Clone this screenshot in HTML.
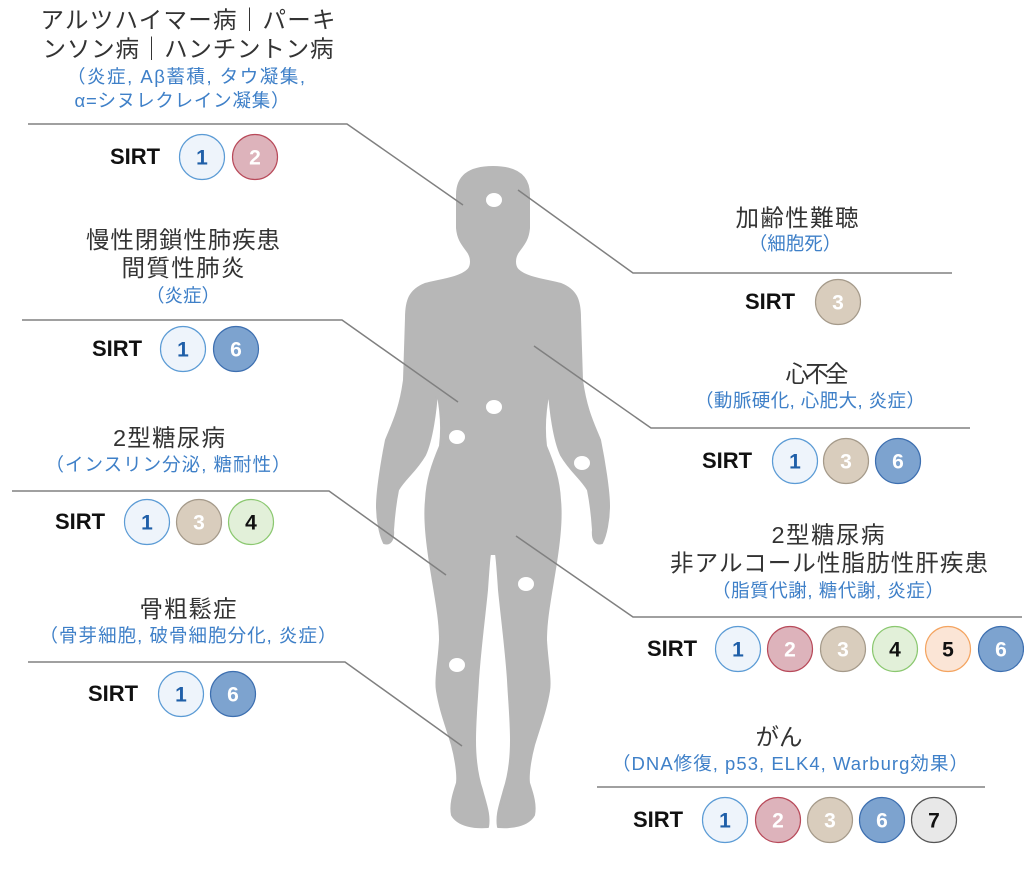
<!DOCTYPE html>
<html><head><meta charset="utf-8"><style>
html,body{margin:0;padding:0;background:#fff}
svg{display:block}
.h{font-family:"Liberation Sans","Noto Sans CJK JP",sans-serif;font-size:23.5px;fill:#333;text-anchor:middle}
.b{font-family:"Liberation Sans","Noto Sans CJK JP",sans-serif;font-size:18.5px;fill:#3f80c8;text-anchor:middle}
.s{font-family:"Liberation Sans",sans-serif;font-size:22px;font-weight:bold;fill:#111;text-anchor:middle}
.n{font-family:"Liberation Sans",sans-serif;font-size:21px;font-weight:bold;text-anchor:middle}
.l{stroke:#808080;stroke-width:1.5;fill:none}
</style></head><body>
<svg width="1024" height="893" viewBox="0 0 1024 893" xmlns="http://www.w3.org/2000/svg">
<defs>
<g id="c1"><circle r="22.5" fill="#eef4fb" stroke="#5b9bd5" stroke-width="1.2"/><text class="n" y="7.5" fill="#1f5fa8">1</text></g>
<g id="c2"><circle r="22.5" fill="#ddb3bb" stroke="#b84a5a" stroke-width="1.2"/><text class="n" y="7.5" fill="#fff">2</text></g>
<g id="c3"><circle r="22.5" fill="#d9cdbd" stroke="#a59a8a" stroke-width="1.2"/><text class="n" y="7.5" fill="#fff">3</text></g>
<g id="c4"><circle r="22.5" fill="#e2f0d9" stroke="#8bc870" stroke-width="1.2"/><text class="n" y="7.5" fill="#111">4</text></g>
<g id="c5"><circle r="22.5" fill="#fbe5d6" stroke="#f4a460" stroke-width="1.2"/><text class="n" y="7.5" fill="#111">5</text></g>
<g id="c6"><circle r="22.5" fill="#7da3cf" stroke="#3d6fb0" stroke-width="1.2"/><text class="n" y="7.5" fill="#fff">6</text></g>
<g id="c7"><circle r="22.5" fill="#e8e8e8" stroke="#555" stroke-width="1.2"/><text class="n" y="7.5" fill="#111">7</text></g>
</defs>

<g fill="#b7b7b7" stroke="#b7b7b7" stroke-width="2" stroke-linejoin="round">
<path d="M493,167 C470,167 457,175 457,195 L457,228 C458,240 463,245 468,252 C472,258 472,266 468,270 C460,278 440,280 425,284 C410,290 406,300 406,318 L404,380 C400,410 392,425 386,440 C382,460 377,490 377,506 C377,520 380,535 384,543 C390,545 394,540 393,530 C394,515 396,500 398,490 C405,478 415,472 425,455 C432,440 436,410 437,391 C441,410 442,430 440,446 C432,465 427,480 426,500 C424,520 427,545 432,575 C436,600 440,620 440,640 C439,660 435,680 437,691 C440,710 446,725 452,745 C456,760 458,775 457,783 C453,795 450,805 452,815 C458,826 475,828 488,827 C490,815 486,805 482,790 C477,775 475,760 475,740 C475,720 477,700 478,680 C480,650 484,620 487,590 C488,575 489,560 490,554 L496,554 C497,560 498,575 499,590 C502,620 506,650 508,680 C509,700 511,720 511,740 C511,760 509,775 504,790 C500,805 496,815 498,827 C511,828 528,826 534,815 C536,805 533,795 529,783 C528,775 530,760 534,745 C540,725 546,710 549,691 C551,680 547,660 546,640 C546,620 550,600 554,575 C559,545 562,520 560,500 C559,480 554,465 546,446 C544,430 545,410 549,391 C550,410 554,440 561,455 C571,472 581,478 588,490 C590,500 592,515 593,530 C592,540 596,545 602,543 C606,535 609,520 609,506 C609,490 604,460 600,440 C594,425 586,410 582,380 L580,318 C580,300 576,290 561,284 C546,280 526,278 518,270 C514,266 514,258 518,252 C523,245 528,240 529,228 L529,195 C529,175 516,167 493,167 Z"/>
</g>
<g fill="#fff">
<ellipse cx="494" cy="200" rx="8" ry="7"/>
<ellipse cx="494" cy="407" rx="8" ry="7"/>
<ellipse cx="457" cy="437" rx="8" ry="7"/>
<ellipse cx="582" cy="463" rx="8" ry="7"/>
<ellipse cx="526" cy="584" rx="8" ry="7"/>
<ellipse cx="457" cy="665" rx="8" ry="7"/>
</g>

<polyline class="l" points="28,124 347,124 463,205"/>
<polyline class="l" points="518,190 633,273 952,273"/>
<polyline class="l" points="22,320 342,320 458,402"/>
<polyline class="l" points="534,346 651,428 970,428"/>
<polyline class="l" points="12,491 329,491 446,575"/>
<polyline class="l" points="516,536 633,617 1022,617"/>
<polyline class="l" points="28,662 345,662 462,746"/>
<polyline class="l" points="597,787 985,787"/>

<text class="h" x="188" y="28" textLength="295" lengthAdjust="spacing">アルツハイマー病｜パーキ</text>
<text class="h" x="188" y="57" textLength="291" lengthAdjust="spacing">ンソン病｜ハンチントン病</text>
<text class="b" x="186" y="83" textLength="238" lengthAdjust="spacing">（炎症, Aβ蓄積, タウ凝集,</text>
<text class="b" x="182" y="107" textLength="215" lengthAdjust="spacing">α=シヌレクレイン凝集）</text>
<text class="s" x="135" y="164">SIRT</text>
<use href="#c1" x="202" y="157"/><use href="#c2" x="255" y="157"/>

<text class="h" x="797" y="226" textLength="123" lengthAdjust="spacing">加齢性難聴</text>
<text class="b" x="795" y="250">（細胞死）</text>
<text class="s" x="770" y="309">SIRT</text>
<use href="#c3" x="838" y="302"/>

<text class="h" x="183" y="248" textLength="194" lengthAdjust="spacing">慢性閉鎖性肺疾患</text>
<text class="h" x="183" y="276" textLength="123" lengthAdjust="spacing">間質性肺炎</text>
<text class="b" x="183" y="302">（炎症）</text>
<text class="s" x="117" y="356">SIRT</text>
<use href="#c1" x="183" y="349"/><use href="#c6" x="236" y="349"/>

<text class="h" x="817" y="382" textLength="63" lengthAdjust="spacing">心不全</text>
<text class="b" x="810" y="407" textLength="230" lengthAdjust="spacing">（動脈硬化, 心肥大, 炎症）</text>
<text class="s" x="727" y="468">SIRT</text>
<use href="#c1" x="795" y="461"/><use href="#c3" x="846" y="461"/><use href="#c6" x="898" y="461"/>

<text class="h" x="169" y="446" textLength="112" lengthAdjust="spacing">2型糖尿病</text>
<text class="b" x="168" y="471" textLength="245" lengthAdjust="spacing">（インスリン分泌, 糖耐性）</text>
<text class="s" x="80" y="529">SIRT</text>
<use href="#c1" x="147" y="522"/><use href="#c3" x="199" y="522"/><use href="#c4" x="251" y="522"/>

<text class="h" x="828" y="543" textLength="113" lengthAdjust="spacing">2型糖尿病</text>
<text class="h" x="829" y="571" textLength="318" lengthAdjust="spacing">非アルコール性脂肪性肝疾患</text>
<text class="b" x="828" y="597" textLength="232" lengthAdjust="spacing">（脂質代謝, 糖代謝, 炎症）</text>
<text class="s" x="672" y="656">SIRT</text>
<use href="#c1" x="738" y="649"/><use href="#c2" x="790" y="649"/><use href="#c3" x="843" y="649"/><use href="#c4" x="895" y="649"/><use href="#c5" x="948" y="649"/><use href="#c6" x="1001" y="649"/>

<text class="h" x="188" y="617" textLength="97" lengthAdjust="spacing">骨粗鬆症</text>
<text class="b" x="188" y="642" textLength="297" lengthAdjust="spacing">（骨芽細胞, 破骨細胞分化, 炎症）</text>
<text class="s" x="113" y="701">SIRT</text>
<use href="#c1" x="181" y="694"/><use href="#c6" x="233" y="694"/>

<text class="h" x="779" y="745">がん</text>
<text class="b" x="790" y="770" textLength="356" lengthAdjust="spacing">（DNA修復, p53, ELK4, Warburg効果）</text>
<text class="s" x="658" y="827">SIRT</text>
<use href="#c1" x="725" y="820"/><use href="#c2" x="778" y="820"/><use href="#c3" x="830" y="820"/><use href="#c6" x="882" y="820"/><use href="#c7" x="934" y="820"/>
</svg>
</body></html>
